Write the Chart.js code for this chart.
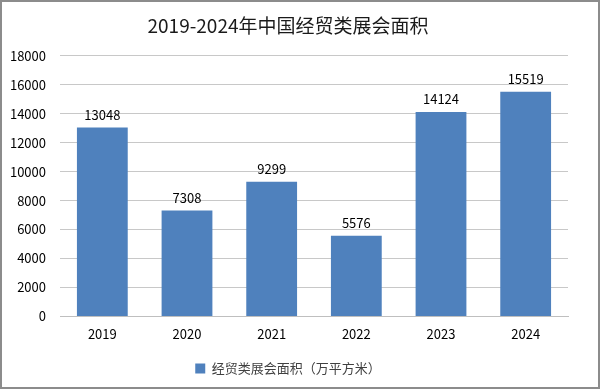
<!DOCTYPE html>
<html>
<head>
<meta charset="utf-8">
<script src="https://cdn.jsdelivr.net/npm/chart.js@4/dist/chart.umd.min.js"></script>
<style>
  body { margin: 0; background: #fff; }
  #wrap { width: 596px; height: 385px; border: 2px solid #8c8c8c; position: relative; }
</style>
</head>
<body>
<div id="wrap"><canvas id="chart" width="596" height="385"></canvas></div>
<script>
  var years = ['2019', '2020', '2021', '2022', '2023', '2024'];
  var area = [13048, 7308, 9299, 5576, 14124, 15519];
  var seriesName = '经贸类展会面积（万平方米）';
  var titleText = '2019-2024年中国经贸类展会面积';

  var fontFam = '"Noto Sans CJK SC", "Liberation Sans", sans-serif';

  // draw value labels over each bar
  var barLabels = {
    id: 'barLabels',
    afterDatasetsDraw: function (chart) {
      var ctx = chart.ctx;
      var meta = chart.getDatasetMeta(0);
      ctx.save();
      ctx.font = '13px ' + fontFam;
      ctx.fillStyle = '#000';
      ctx.textAlign = 'center';
      ctx.textBaseline = 'bottom';
      meta.data.forEach(function (bar, i) {
        ctx.fillText(area[i], bar.x, bar.y - 6);
      });
      ctx.restore();
    }
  };

  new Chart(document.getElementById('chart'), {
    type: 'bar',
    data: {
      labels: years,
      datasets: [{
        label: seriesName,
        data: area,
        backgroundColor: '#4f81bd',
        barPercentage: 0.6,
        categoryPercentage: 1
      }]
    },
    options: {
      responsive: false,
      animation: false,
      layout: { padding: { left: 6, right: 30, top: 0, bottom: 2 } },
      plugins: {
        title: {
          display: true,
          text: titleText,
          color: '#1a1a1a',
          font: { family: fontFam, size: 19, weight: 'normal' },
          padding: { top: 12, bottom: 19 }
        },
        legend: {
          position: 'bottom',
          labels: {
            color: '#404040',
            font: { family: fontFam, size: 13 },
            boxWidth: 10,
            boxHeight: 10,
            padding: 10
          }
        },
        tooltip: { enabled: false }
      },
      scales: {
        x: {
          grid: { display: false, drawTicks: false },
          border: { color: '#bfbfbf' },
          ticks: { color: '#000', font: { family: fontFam, size: 13 }, padding: 10 }
        },
        y: {
          min: 0,
          max: 18000,
          afterFit: function (scale) { scale.width = 52; },
          grid: { color: '#c8c8c8', drawTicks: false },
          border: { display: false },
          ticks: {
            stepSize: 2000,
            color: '#000',
            font: { family: fontFam, size: 13 },
            padding: 14,
            callback: function (v) { return String(v); }
          }
        }
      }
    },
    plugins: [barLabels]
  });
</script>
</body>
</html>
